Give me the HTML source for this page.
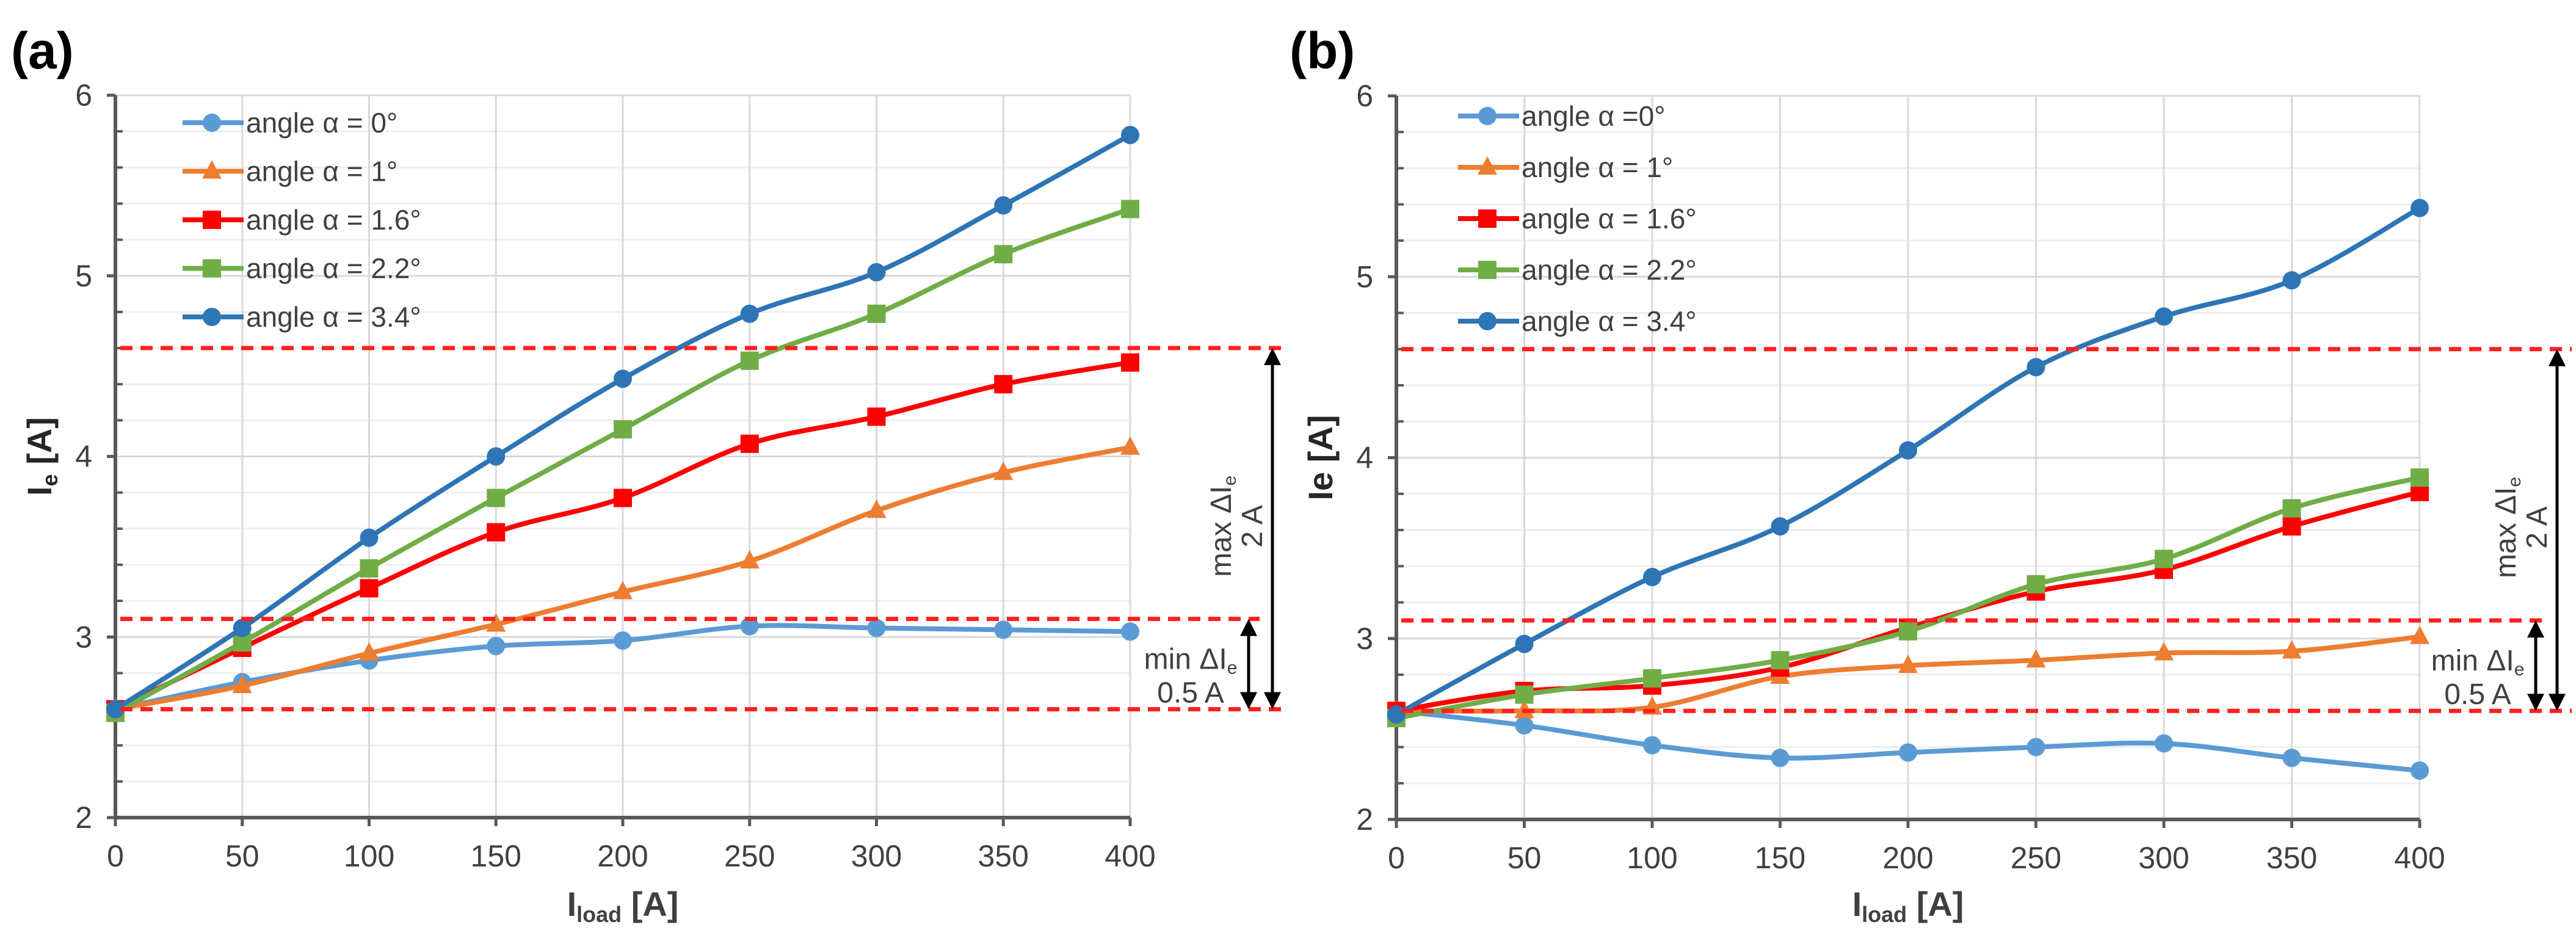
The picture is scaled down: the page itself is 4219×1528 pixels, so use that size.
<!DOCTYPE html>
<html><head><meta charset="utf-8">
<style>
html,body{margin:0;padding:0;background:#fff;}
svg{display:block;font-family:"Liberation Sans",Arial,sans-serif;}
</style></head>
<body>
<svg id="fig" xmlns="http://www.w3.org/2000/svg" width="4219" height="1528" viewBox="0 0 4219 1528"></svg>
<script>
// ---- data ----
const xCats = [0,50,100,150,200,250,300,350,400];
const xTicks = [0,50,100,150,200,250,300,350,400];
const yTicks = [2,3,4,5,6];
const seriesNames = ["angle \u03b1 = 0\u00b0","angle \u03b1 = 1\u00b0","angle \u03b1 = 1.6\u00b0","angle \u03b1 = 2.2\u00b0","angle \u03b1 = 3.4\u00b0"];
const seriesNamesB = ["angle \u03b1 =0\u00b0","angle \u03b1 = 1\u00b0","angle \u03b1 = 1.6\u00b0","angle \u03b1 = 2.2\u00b0","angle \u03b1 = 3.4\u00b0"];
const a0 = [2.6,2.75,2.87,2.95,2.98,3.06,3.05,3.04,3.03];
const a1 = [2.6,2.73,2.91,3.07,3.25,3.42,3.70,3.91,4.05];
const a16 = [2.6,2.94,3.27,3.58,3.77,4.07,4.22,4.40,4.52];
const a22 = [2.58,2.97,3.38,3.77,4.15,4.53,4.79,5.12,5.37];
const a34 = [2.6,3.05,3.55,4.0,4.43,4.79,5.02,5.39,5.78];
const b0 = [2.6,2.52,2.41,2.34,2.37,2.40,2.42,2.34,2.27];
const b1 = [2.6,2.6,2.62,2.79,2.85,2.88,2.92,2.93,3.01];
const b16 = [2.6,2.71,2.74,2.84,3.06,3.26,3.38,3.62,3.81];
const b22 = [2.56,2.69,2.78,2.88,3.04,3.30,3.44,3.72,3.89];
const b34 = [2.58,2.97,3.34,3.62,4.04,4.50,4.78,4.98,5.38];
const refLevels = [4.6,3.1,2.6];

const colors = ["#5B9BD5","#ED7D31","#FF0000","#70AD47","#2E75B6"];
const markers = ["circle","triangle","square","square","circle"];
const NS = "http://www.w3.org/2000/svg";
const svg = document.getElementById("fig");
function el(tag, attrs, parent){
  const e = document.createElementNS(NS, tag);
  for (const k in attrs) e.setAttribute(k, attrs[k]);
  (parent||svg).appendChild(e);
  return e;
}
function smoothPath(pts){
  let d = "M"+pts[0][0]+","+pts[0][1];
  for (let i=0;i<pts.length-1;i++){
    const p0 = pts[i-1]||pts[i], p1=pts[i], p2=pts[i+1], p3=pts[i+2]||p2;
    const t=1/6;
    const c1x=p1[0]+(p2[0]-p0[0])*t, c1y=p1[1]+(p2[1]-p0[1])*t;
    const c2x=p2[0]-(p3[0]-p1[0])*t, c2y=p2[1]-(p3[1]-p1[1])*t;
    d+=" C"+c1x+","+c1y+" "+c2x+","+c2y+" "+p2[0]+","+p2[1];
  }
  return d;
}
function marker(g, type, x, y, color, name){
  let m;
  if (type==="circle") m = el("circle",{cx:x,cy:y,r:15,fill:color},g);
  else if (type==="square") m = el("rect",{x:x-15,y:y-15,width:30,height:30,fill:color},g);
  else m = el("polygon",{points:(x)+","+(y-18)+" "+(x+16)+","+(y+12)+" "+(x-16)+","+(y+12),fill:color},g);
  
  
  return m;
}
function drawPanel(P){
  const g = el("g",{});
  
  
  const X = v => P.x0 + (v-0)/(400-0)*(P.x1-P.x0);
  const Y = v => P.y2 + (v-2)/(6-2)*(P.y6-P.y2);
  // minor grid
  for (let v=2.2; v<6; v+=0.2){
    if (Math.abs(v-Math.round(v))<0.01) continue;
    const gl = el("line",{x1:P.x0,x2:P.x1,y1:Y(v),y2:Y(v),stroke:"#eeeeee","stroke-width":3},g);
    
    
    const mt = el("line",{x1:P.x0,x2:P.x0+12,y1:Y(v),y2:Y(v),stroke:"#595959","stroke-width":4},g);
    
    
  }
  yTicks.forEach(v=>{
    const gl = el("line",{x1:P.x0,x2:P.x1,y1:Y(v),y2:Y(v),stroke:"#d9d9d9","stroke-width":3},g);
    
    
    const tk = el("line",{x1:P.x0-14,x2:P.x0,y1:Y(v),y2:Y(v),stroke:"#595959","stroke-width":5},g);
    
    
    const t = el("text",{x:P.x0-38,y:Y(v)+17,"text-anchor":"end","font-size":50,fill:"#404040"},g);
    t.textContent = v;
    
    
  });
  xTicks.forEach(v=>{
    if (v>0){
      const gl = el("line",{x1:X(v),x2:X(v),y1:P.y6,y2:P.y2,stroke:"#d9d9d9","stroke-width":3},g);
      
      
    }
    const tk = el("line",{x1:X(v),x2:X(v),y1:P.y2,y2:P.y2+14,stroke:"#595959","stroke-width":5},g);
    
    
    const t = el("text",{x:X(v),y:P.y2+80,"text-anchor":"middle","font-size":50,fill:"#404040"},g);
    t.textContent = v;
    
    
  });
  const ya = el("line",{x1:P.x0,x2:P.x0,y1:P.y6,y2:P.y2,stroke:"#595959","stroke-width":6},g);
  
  
  const xa = el("line",{x1:P.x0,x2:P.x1,y1:P.y2,y2:P.y2,stroke:"#595959","stroke-width":6},g);
  
  
  // axis titles
  const xt = el("text",{x:(P.x0+P.x1)/2,y:1500,"text-anchor":"middle","font-size":56,"font-weight":"bold",fill:"#404040"},g);
  xt.innerHTML = 'I<tspan font-size="36" dy="10">load</tspan><tspan dy="-10"> [A]</tspan>';
  
  
  const yt = el("text",{x:0,y:0,"text-anchor":"middle","font-size":56,"font-weight":"bold",fill:"#262626",transform:"translate("+(P.x0-105)+","+((P.y6+P.y2)/2)+") rotate(-90)"},g);
  yt.innerHTML = P.yTitle;
  
  
  // panel label
  const pl = el("text",{x:P.labelX,y:112,"font-size":84,"font-weight":"bold",fill:"#000"},g);
  pl.textContent = P.label;
  
  
  // series
  P.series.forEach((s,i)=>{
    const pts = xCats.map((c,j)=>[X(c),Y(s[j])]);
    const sg = el("g",{},g);
    
    
    const pth = el("path",{d:smoothPath(pts),fill:"none",stroke:colors[i],"stroke-width":8,"stroke-linejoin":"round"},sg);
    
    
    pts.forEach(p=>marker(sg,markers[i],p[0],p[1],colors[i],'point-'+P.keys[i]));
  });
  // reference lines
  refLevels.forEach((v,k)=>{
    const rl = el("line",{x1:P.x0+8,x2:(k===1?P.arrowSmall+18:P.dashEnd),y1:Y(v),y2:Y(v),stroke:"#FF2020","stroke-width":7,"stroke-dasharray":"20 13"},g);
    
    
  });
  // arrows
  function darrow(x,ya,yb,name){
    const ag = el("g",{},g);
    
    
    el("line",{x1:x,x2:x,y1:ya+25,y2:yb-25,stroke:"#000","stroke-width":5},ag);
    el("polygon",{points:x+","+ya+" "+(x-14)+","+(ya+28)+" "+(x+14)+","+(ya+28),fill:"#000"},ag);
    el("polygon",{points:x+","+yb+" "+(x-14)+","+(yb-28)+" "+(x+14)+","+(yb-28),fill:"#000"},ag);
  }
  darrow(P.arrowBig,Y(refLevels[0]),Y(refLevels[2]),'max-delta-arrow');
  darrow(P.arrowSmall,Y(refLevels[1]),Y(refLevels[2]),'min-delta-arrow');
  const mx = el("text",{x:0,y:0,"text-anchor":"middle","font-size":48,fill:"#404040",transform:"translate("+(P.arrowBig-68)+","+((Y(refLevels[0])+Y(refLevels[1]))/2+70)+") rotate(-90)"},g);
  mx.innerHTML = 'max \u0394I<tspan font-size="30" dy="8">e</tspan>';
  
  
  const mx2 = el("text",{x:0,y:0,"text-anchor":"middle","font-size":48,fill:"#404040",transform:"translate("+(P.arrowBig-17)+","+((Y(refLevels[0])+Y(refLevels[1]))/2+70)+") rotate(-90)"},g);
  mx2.textContent = '2 A';
  
  
  const mn = el("text",{x:P.arrowSmall-95,y:Y(refLevels[1])+82,"text-anchor":"middle","font-size":48,fill:"#404040"},g);
  mn.innerHTML = 'min \u0394I<tspan font-size="30" dy="8">e</tspan>';
  
  
  const mn2 = el("text",{x:P.arrowSmall-95,y:Y(refLevels[1])+137,"text-anchor":"middle","font-size":48,fill:"#404040"},g);
  mn2.textContent = '0.5 A';
  
  
  // legend
  const lg = el("g",{},g);
  
  
  P.names.forEach((nm,i)=>{
    const ly = P.legY + i*P.legDy;
    const eg = el("g",{},lg);
    
    
    el("line",{x1:P.legX,x2:P.legX+100,y1:ly,y2:ly,stroke:colors[i],"stroke-width":8},eg);
    marker(eg,markers[i],P.legX+48,ly,colors[i],'legend-marker');
    const t = el("text",{x:P.legX+104,y:ly+16,"font-size":46,fill:"#404040"},eg);
    t.textContent = nm;
  });
}
drawPanel({id:"panel-a",label:"(a)",labelX:18,x0:189,x1:1851,y6:156,y2:1339,
  series:[a0,a1,a16,a22,a34],keys:["0deg","1deg","1-6deg","2-2deg","3-4deg"],names:seriesNames,
  yTitle:'I<tspan font-size="36" dy="10">e</tspan><tspan dy="-10"> [A]</tspan>',
  dashEnd:2100,arrowBig:2084,arrowSmall:2045,legX:299,legY:201,legDy:79.5});
drawPanel({id:"panel-b",label:"(b)",labelX:2112,x0:2287,x1:3963,y6:157,y2:1342,
  series:[b0,b1,b16,b22,b34],keys:["0deg","1deg","1-6deg","2-2deg","3-4deg"],names:seriesNamesB,
  yTitle:'Ie [A]',
  dashEnd:4212,arrowBig:4188,arrowSmall:4153,legX:2388,legY:190,legDy:84});
</script>
</body></html>
